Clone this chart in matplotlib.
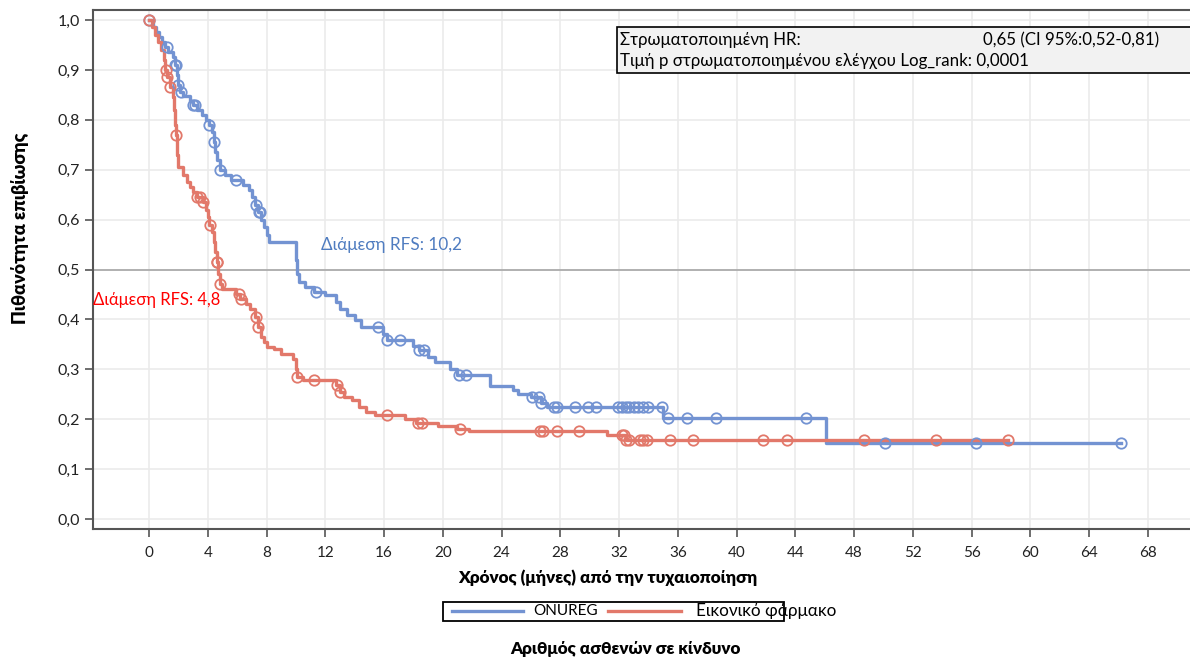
import numpy as np
import matplotlib.pyplot as plt
from matplotlib.patches import Rectangle
from matplotlib.lines import Line2D

# ONUREG: event times (months) and survival after each step
onureg_t = [0, 0.3, 0.5, 0.7, 0.9, 1.1, 1.3, 1.6, 1.8, 1.9, 2.0, 2.1, 2.3, 2.8, 3.0, 3.3, 3.6, 3.9,
            4.1, 4.3, 4.4, 4.5, 4.6, 4.8, 5.2, 5.6, 6.4, 6.8, 7.0, 7.2, 7.4, 7.6, 7.8, 8.0, 8.2,
            10.0, 10.1, 10.2, 10.6, 11.2, 12.0, 12.7, 13.0, 13.5, 14.0, 14.4, 15.9, 16.2, 18.0,
            18.4, 19.0, 19.5, 20.5, 21.0, 23.2, 24.8, 25.1, 26.0, 26.7, 27.1, 35.0, 46.1]
onureg_s = [1.0, 0.985, 0.975, 0.965, 0.955, 0.945, 0.935, 0.925, 0.91, 0.89, 0.87, 0.855, 0.848,
            0.838, 0.83, 0.82, 0.81, 0.80, 0.79, 0.775, 0.755, 0.735, 0.72, 0.70, 0.69, 0.68, 0.67,
            0.66, 0.645, 0.63, 0.615, 0.60, 0.585, 0.57, 0.555, 0.52, 0.49, 0.475, 0.465, 0.455,
            0.448, 0.435, 0.42, 0.408, 0.398, 0.385, 0.37, 0.358, 0.347, 0.338, 0.325, 0.315,
            0.30, 0.289, 0.267, 0.258, 0.25, 0.245, 0.233, 0.225, 0.202, 0.152]
onureg_cens = [0.0, 1.2, 1.8, 1.85, 2.0, 2.2, 3.0, 3.1, 4.1, 4.45, 4.85, 5.9, 7.3, 7.5, 7.55, 11.4,
               15.6, 16.2, 17.1, 18.4, 18.7, 21.1, 21.6, 26.1, 26.55, 26.7, 27.6, 27.8, 29.0, 29.9,
               30.4, 31.9, 32.2, 32.5, 32.7, 33.0, 33.3, 33.6, 34.0, 34.9, 35.3, 36.6, 38.6, 44.7,
               50.1, 56.3, 66.2]

# Placebo
placebo_t = [0, 0.2, 0.4, 0.6, 0.8, 1.0, 1.1, 1.2, 1.4, 1.6, 1.7, 1.8, 1.85, 1.9, 2.0, 2.3, 2.6,
             2.8, 3.0, 3.3, 3.7, 3.9, 4.0, 4.1, 4.3, 4.4, 4.5, 4.6, 4.7, 4.8, 5.0, 5.9, 6.2, 6.6,
             6.9, 7.2, 7.4, 7.6, 7.8, 8.0, 8.5, 9.0, 9.8, 10.0, 10.1, 10.5, 12.7, 13.0, 13.3,
             13.8, 14.3, 14.8, 15.4, 17.4, 18.2, 19.7, 21.0, 21.8, 31.2, 32.5]
placebo_s = [1.0, 0.985, 0.97, 0.955, 0.94, 0.92, 0.90, 0.885, 0.865, 0.845, 0.82, 0.79, 0.77,
             0.73, 0.705, 0.69, 0.675, 0.665, 0.655, 0.645, 0.635, 0.62, 0.605, 0.59, 0.575,
             0.555, 0.535, 0.515, 0.49, 0.47, 0.46, 0.45, 0.44, 0.43, 0.42, 0.405, 0.385, 0.365,
             0.355, 0.345, 0.34, 0.33, 0.32, 0.30, 0.285, 0.278, 0.268, 0.255, 0.245, 0.238,
             0.225, 0.215, 0.208, 0.2, 0.192, 0.187, 0.18, 0.176, 0.168, 0.158]
placebo_cens = [0.0, 1.15, 1.25, 1.4, 1.85, 3.3, 3.5, 3.7, 4.15, 4.6, 4.65, 4.85, 6.1, 6.25, 7.3,
                7.45, 10.1, 11.2, 12.8, 13.0, 16.2, 18.3, 18.6, 21.2, 26.6, 26.8, 27.8, 29.3, 32.2,
                32.35, 32.5, 32.7, 33.4, 33.6, 33.9, 35.5, 37.0, 41.8, 43.4, 48.7, 53.6, 58.5]

x_ticks = np.arange(0, 72, 4)
y_ticks = np.arange(0, 1.01, 0.1)

blue = '#7393D2'
red = '#E2786A'
FONT = 'Lato'

W, H = 1190, 658
fig = plt.figure(figsize=(W / 100, H / 100), dpi=100)
ax = fig.add_axes([93 / W, 1 - 529 / H, 1 - 93 / W, (529 - 10) / H])


def surv_at(times, surv, t):
    idx = np.searchsorted(times, t, side='right') - 1
    return np.array(surv)[idx]


def km(times, surv, cens, color):
    tt = list(times) + [max(cens)]
    ss = list(surv) + [surv[-1]]
    ax.step(tt, ss, where='post', color=color, lw=2.4, zorder=3)
    cs = surv_at(times, surv, np.array(cens))
    ax.plot(cens, cs, 'o', mfc='none', mec=color, ms=7.5, mew=1.3, zorder=4)


km(onureg_t, onureg_s, onureg_cens, blue)
km(placebo_t, placebo_s, placebo_cens, red)

ax.axhline(0.5, color='#A6A6A6', lw=1.2, zorder=2)

ax.set_xlim(-56 / 14.69, (W - 149) / 14.69)
ax.set_ylim(-10 / 499, 509 / 499)
ax.set_xticks(x_ticks)
ax.set_yticks(y_ticks)
ax.set_yticklabels([f'{v:.1f}'.replace('.', ',') for v in y_ticks], family=FONT, fontsize=11.5)
ax.set_xticklabels([str(v) for v in x_ticks], family=FONT, fontsize=11)
ax.grid(True, color='#EBEBEB', lw=1.2, zorder=0)
ax.set_axisbelow(True)
for s in ['left', 'bottom', 'top']:
    ax.spines[s].set_color('#555555')
    ax.spines[s].set_linewidth(1.5)
ax.spines['right'].set_visible(False)
ax.tick_params(axis='both', direction='out', length=6, width=1.2, color='#555555', labelcolor='#222222')
ax.tick_params(axis='x', pad=6)

ax.text(11.7, 0.549, 'Διάμεση RFS: 10,2', color='#4F7CC0', fontsize=12.3, family=FONT,
        va='center', ha='left')
ax.text(-3.8, 0.439, 'Διάμεση RFS: 4,8', color='#FF0000', fontsize=12, family=FONT,
        va='center', ha='left', zorder=5)

# stats box
fig.patches.append(Rectangle((617 / W, 1 - 73 / H), 600 / W, 46 / H, transform=fig.transFigure,
                             facecolor='#F2F2F2', edgecolor='black', lw=1.2, zorder=5))
fig.text(620 / W, 1 - 40 / H, 'Στρωματοποιημένη HR:', family=FONT, fontsize=12.2, va='center', zorder=6)
fig.text(983 / W, 1 - 40 / H, '0,65 (CI 95%:0,52-0,81)', family=FONT, fontsize=12.2, va='center', zorder=6)
fig.text(620 / W, 1 - 61 / H, 'Τιμή p στρωματοποιημένου ελέγχου Log_rank: 0,0001', family=FONT,
         fontsize=12.2, va='center', zorder=6)

# axis labels
fig.text(20 / W, 1 - 228 / H, 'Πιθανότητα επιβίωσης', rotation=90, family=FONT,
         fontweight='heavy', fontsize=13, ha='center', va='center')
fig.text(608 / W, 1 - 578 / H, 'Χρόνος (μήνες) από την τυχαιοποίηση', family=FONT,
         fontweight='heavy', fontsize=12.3, ha='center', va='center')

# legend
fig.patches.append(Rectangle((443 / W, 1 - 621 / H), 341 / W, 19 / H, transform=fig.transFigure,
                             facecolor='white', edgecolor='black', lw=1.3))
fig.lines.append(Line2D([452 / W, 523 / W], [1 - 611 / H] * 2, transform=fig.transFigure, color=blue, lw=2.4))
fig.lines.append(Line2D([608 / W, 681 / W], [1 - 611 / H] * 2, transform=fig.transFigure, color=red, lw=2.4))
fig.text(533 / W, 1 - 611 / H, 'ONUREG', family=FONT, fontsize=11, va='center', zorder=6)
fig.text(696 / W, 1 - 611 / H, 'Εικονικό φάρμακο', family=FONT, fontsize=12.3, va='center', zorder=6)

fig.text(625 / W, 1 - 649 / H, 'Αριθμός ασθενών σε κίνδυνο', family=FONT,
         fontweight='heavy', fontsize=12.3, ha='center', va='center')

fig.savefig('out.png', dpi=100)
